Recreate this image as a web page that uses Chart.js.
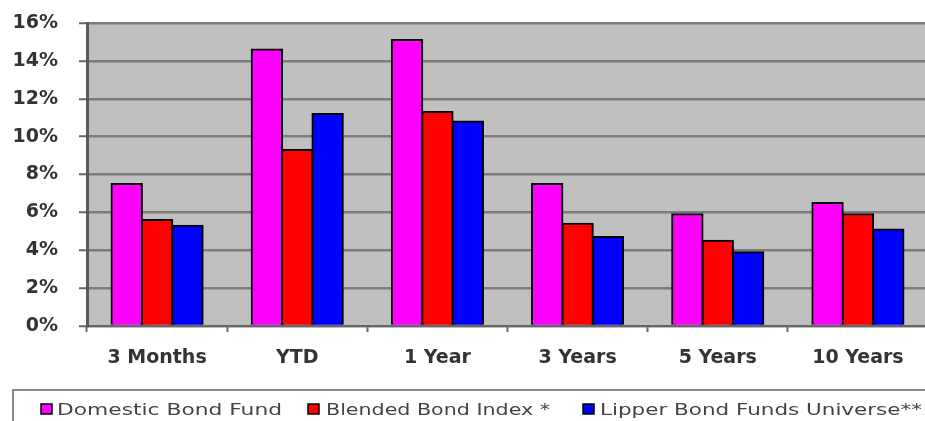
<!DOCTYPE html>
<html>
<head>
<meta charset="utf-8">
<script src="https://cdn.jsdelivr.net/npm/chart.js@4.4.1/dist/chart.umd.min.js"></script>
<style>
  html, body { margin: 0; padding: 0; background: #fff; overflow: hidden; width: 925px; height: 421px; }
  #wrap { width: 935px; height: 421px; }
</style>
</head>
<body>
<div id="wrap"><canvas id="c" width="935" height="421"></canvas></div>
<script>
// Return periods
const periods = ['3 Months', 'YTD', '1 Year', '3 Years', '5 Years', '10 Years'];

// Total returns, percent
const domesticBondFund = [7.5, 14.6, 15.1, 7.5, 5.9, 6.5];
const blendedBondIndex = [5.6, 9.3, 11.3, 5.4, 4.5, 5.9];
const lipperUniverse   = [5.3, 11.2, 10.8, 4.7, 3.9, 5.1];

const seriesNames = ['Domestic Bond Fund', 'Blended Bond Index *', 'Lipper Bond Funds Universe**'];

// Y axis range / step in percent
const yMin = 0, yMax = 16, yStep = 2;

const colors = ['#FF00FF', '#FF0000', '#0000FF'];

// Grey plotting area behind the bars
const plotBackground = {
  id: 'plotBackground',
  beforeDraw(chart) {
    const { ctx, chartArea: a } = chart;
    ctx.save();
    ctx.fillStyle = '#C0C0C0';
    ctx.fillRect(a.left, a.top, a.right - a.left, a.bottom - a.top);
    ctx.restore();
  }
};

// Boxed legend strip along the bottom, entries stretched wide
const legendStrip = {
  id: 'legendStrip',
  afterDraw(chart) {
    const ctx = chart.ctx;
    const boxTop = 390, boxLeft = 13;
    const markerX = [40, 307, 582];
    const textX = [57, 326, 600];
    const textW = [225, 224, 322];
    ctx.save();
    ctx.strokeStyle = '#8a8a8a';
    ctx.lineWidth = 2;
    ctx.beginPath();
    ctx.moveTo(boxLeft, 430);
    ctx.lineTo(boxLeft, boxTop);
    ctx.lineTo(chart.width + 5, boxTop);
    ctx.stroke();

    chart.data.datasets.forEach((ds, i) => {
      // marker
      ctx.fillStyle = ds.backgroundColor;
      ctx.fillRect(markerX[i] + 1, 404, 11, 10);
      ctx.strokeStyle = '#000';
      ctx.lineWidth = 1.5;
      ctx.strokeRect(markerX[i] + 1, 404, 11, 10);
      // label
      ctx.font = '16.5px "DejaVu Sans"';
      ctx.fillStyle = '#444';
      ctx.textBaseline = 'alphabetic';
      ctx.textAlign = 'left';
      const w = ctx.measureText(ds.label).width;
      ctx.save();
      ctx.translate(textX[i], 415);
      ctx.scale(textW[i] / w, 1);
      ctx.fillText(ds.label, 0, 0);
      ctx.restore();
    });
    ctx.restore();
  }
};

const datasets = [domesticBondFund, blendedBondIndex, lipperUniverse].map((vals, i) => ({
  label: seriesNames[i],
  data: vals,
  backgroundColor: colors[i],
  borderColor: '#000',
  borderWidth: 2,
  borderSkipped: 'bottom',
  inflateAmount: 1,
  categoryPercentage: 0.65,
  barPercentage: 1.0
}));

new Chart(document.getElementById('c'), {
  type: 'bar',
  data: { labels: periods, datasets },
  options: {
    responsive: false,
    animation: false,
    devicePixelRatio: 1,
    layout: { padding: { left: 0, top: 23, right: 7, bottom: 0 } },
    plugins: {
      legend: { display: false },
      tooltip: { enabled: false }
    },
    scales: {
      x: {
        grid: {
          display: true,
          drawOnChartArea: false,
          drawTicks: true,
          tickLength: 6,
          tickColor: '#666',
          tickWidth: 2,
          offset: true
        },
        border: { display: true, color: '#666', width: 2 },
        ticks: {
          color: '#333',
          padding: 15,
          font: { family: '"DejaVu Sans"', size: 19, weight: 'bold' },
          maxRotation: 0
        },
        afterFit(s) { s.height = 95; s.paddingLeft = 0; s.paddingRight = 0; }
      },
      y: {
        min: yMin,
        max: yMax,
        ticks: {
          stepSize: yStep,
          color: '#333',
          padding: 21,
          font: { family: '"DejaVu Sans"', size: 19, weight: 'bold' },
          callback: v => v + '%'
        },
        grid: {
          color: '#7c7c7c',
          lineWidth: 2.5,
          tickLength: 8,
          tickColor: '#666',
          tickWidth: 2
        },
        border: { display: true, color: '#5a5a5a', width: 3 },
        afterFit(s) { s.width = 87; s.paddingTop = 0; s.paddingBottom = 0; }
      }
    }
  },
  plugins: [plotBackground, legendStrip]
});
</script>
</body>
</html>
